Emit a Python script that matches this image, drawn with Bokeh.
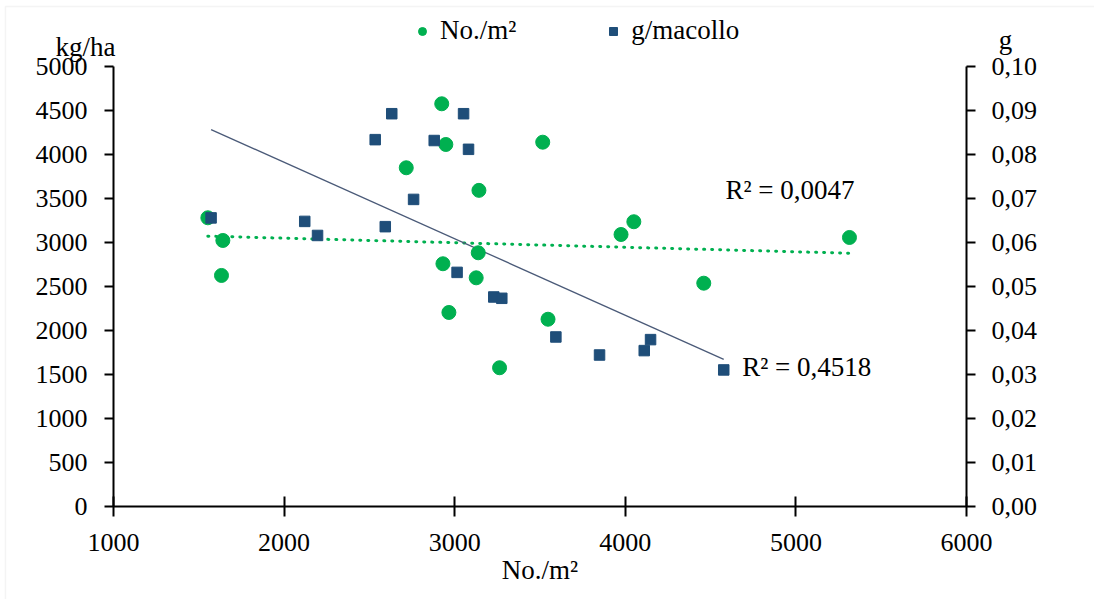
from bokeh.plotting import figure
from bokeh.models import (Range1d, LinearAxis, FixedTicker, CustomJSTickFormatter,
                          Label, Legend, LegendItem, BoxAnnotation)
from bokeh.embed import file_html
from bokeh.resources import INLINE

# ---- data ----
green_x = [1553, 1641, 1633, 2924, 2948, 2716, 3142, 3516, 4050, 3975, 4460, 3547,
           2931, 2966, 3126, 3138, 5314, 3263]
green_y = [3281, 3023, 2625, 4578, 4115, 3850, 3593, 4141, 3236, 3091, 2537, 2127,
           2758, 2204, 2598, 2883, 3057, 1575]

blue_x = [1572, 2121, 2196, 2534, 2631, 2880, 3052, 3081, 2759, 2593, 3014, 3229,
          3276, 3593, 3849, 4111, 4148, 4577]
blue_g = [0.0656, 0.0648, 0.0616, 0.0834, 0.0893, 0.0832, 0.0893, 0.0812, 0.0698,
          0.0636, 0.0532, 0.0476, 0.0473, 0.0385, 0.0344, 0.0354, 0.0379, 0.0310]

green_trend_x = [1553, 5314]
green_trend_y = [3072, 2878]
blue_trend_x = [1572, 4577]
blue_trend_g = [0.0857, 0.0334]

x_ticks = [1000, 2000, 3000, 4000, 5000, 6000]
y_ticks = [0, 500, 1000, 1500, 2000, 2500, 3000, 3500, 4000, 4500, 5000]
g_ticks = [0.00, 0.01, 0.02, 0.03, 0.04, 0.05, 0.06, 0.07, 0.08, 0.09, 0.10]

GREEN = "#00B050"
BLUE = "#1F4E79"
FONT = "Liberation Serif"

# the frame covers the whole canvas; axes are pinned at the data edges
X0, X1 = 337.6, 6750.3
Y0, Y1 = -1061.5, 5753.0
p = figure(width=1094, height=599, output_backend="svg", toolbar_location=None,
           x_range=Range1d(X0, X1), y_range=Range1d(Y0, Y1), min_border=0)
p.extra_y_ranges = {"g": Range1d(Y0 / 50000, Y1 / 50000)}
p.outline_line_color = None
p.xgrid.visible = False
p.ygrid.visible = False
p.background_fill_color = "white"
p.border_fill_color = "white"


def style_axis(ax, tick_in, tick_out, standoff):
    ax.axis_line_color = "black"
    ax.axis_line_width = 2
    ax.major_tick_line_color = "black"
    ax.major_tick_line_width = 2
    ax.major_tick_in = tick_in
    ax.major_tick_out = tick_out
    ax.minor_tick_line_color = None
    ax.major_label_text_font = FONT
    ax.major_label_text_font_size = "26px"
    ax.major_label_text_color = "black"
    ax.major_label_standoff = standoff


xa = p.xaxis[0]
xa.ticker = FixedTicker(ticks=x_ticks)
xa.bounds = (1000, 6000)
xa.fixed_location = 0
style_axis(xa, 10, 10, 18)
xa.axis_label = "No./m²"
xa.axis_label_text_font = FONT
xa.axis_label_text_font_size = "27px"
xa.axis_label_text_font_style = "normal"
xa.axis_label_text_color = "black"
xa.axis_label_standoff = 0

ya = p.yaxis[0]
ya.ticker = FixedTicker(ticks=y_ticks)
ya.bounds = (0, 5000)
ya.fixed_location = 1000
style_axis(ya, 0, 9, 17)

ra = LinearAxis(y_range_name="g", ticker=FixedTicker(ticks=g_ticks), bounds=(0, 0.10),
                fixed_location=6000,
                formatter=CustomJSTickFormatter(code="return tick.toFixed(2).replace('.', ',');"))
style_axis(ra, 0, 9, 16)
p.add_layout(ra, "right")

# light frame round the chart
p.add_layout(BoxAnnotation(left=X0 + 5 / 0.1706, top=Y1 - 6 / 0.0879, right=X1 + 500,
                           bottom=Y0 - 500, fill_alpha=0, line_color="#D9D9D9",
                           line_width=1.5, level="underlay"))

# trend lines
p.line(green_trend_x, green_trend_y, line_color=GREEN, line_width=3,
       line_dash="1 7", line_cap="round")
p.line(blue_trend_x, blue_trend_g, y_range_name="g", line_color="#4A5A78", line_width=1.3)

# scatter
rg = p.scatter(green_x, green_y, marker="circle", size=14, fill_color=GREEN,
               line_color=GREEN)
rb = p.scatter(blue_x, blue_g, y_range_name="g", marker="square", size=10.5,
               fill_color=BLUE, line_color=BLUE)

legend = Legend(items=[LegendItem(label="No./m²", renderers=[rg]),
                       LegendItem(label="g/macollo", renderers=[rb])],
                orientation="horizontal", location=(412, 553),
                glyph_width=20, glyph_height=20, label_standoff=8, spacing=87,
                padding=0, margin=0, border_line_color=None,
                background_fill_alpha=0, label_text_font=FONT,
                label_text_font_size="27px", label_text_color="black")
p.add_layout(legend)

# texts
for txt, x, y, align, base in [
    ("kg/ha", 836, 5222, "center", "alphabetic"),
    ("g", 6229, 5298, "center", "alphabetic"),
    ("R² = 0,0047", 4587, 3592, "left", "middle"),
    ("R² = 0,4518", 4685, 1581, "left", "middle"),
]:
    p.add_layout(Label(x=x, y=y, text=txt, text_align=align, text_baseline=base,
                       text_font=FONT, text_font_size="27px", text_color="black"))

open("out.html", "w").write(file_html(p, INLINE))
